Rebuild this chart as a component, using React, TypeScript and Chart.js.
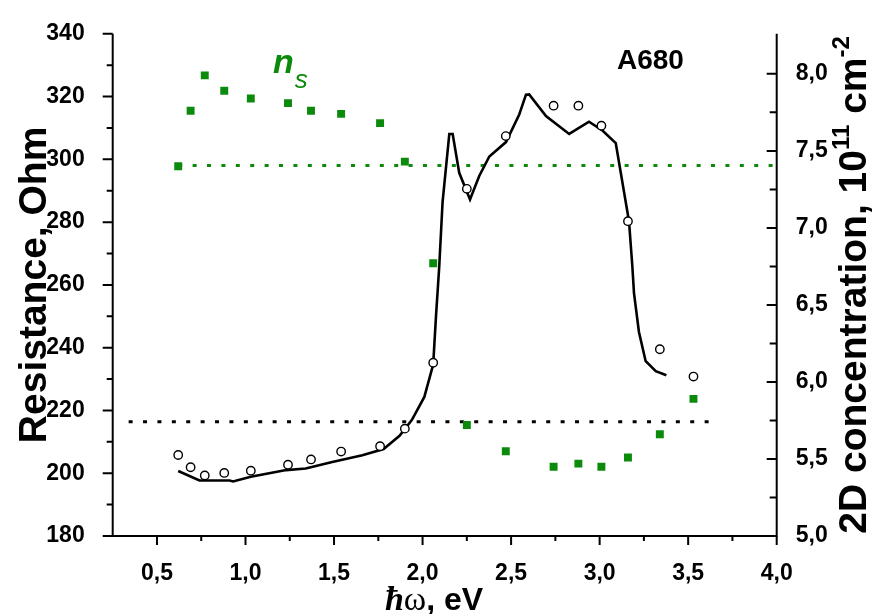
import React, { useEffect, useRef } from 'react';
import { Chart, registerables } from 'chart.js';

Chart.register(...registerables);

// Photon energy (eV) of measured points
const energy = [0.62, 0.69, 0.77, 0.88, 1.03, 1.24, 1.37, 1.54, 1.76, 1.9, 2.06, 2.25, 2.47, 2.74, 2.88, 3.01, 3.16, 3.34, 3.53];
// Resistance (Ohm), open circles
const resistance = [205.8, 201.9, 199.3, 200.1, 200.8, 202.7, 204.4, 206.9, 208.6, 214.2, 235.2, 290.6, 307.4, 317.1, 317.1, 310.7, 280.3, 239.5, 230.8];
// 2D concentration (10^11 cm^-2), green squares
const concentration = [7.4, 7.76, 7.99, 7.89, 7.84, 7.81, 7.76, 7.74, 7.68, 7.43, 6.77, 5.72, 5.55, 5.45, 5.47, 5.45, 5.51, 5.66, 5.89];

// Solid curve
const curveEnergy = [0.62, 0.74, 0.91, 0.93, 1.03, 1.23, 1.34, 1.49, 1.66, 1.78, 1.87, 1.94, 2.01, 2.06, 2.076, 2.094, 2.113, 2.151, 2.17, 2.207, 2.268, 2.32, 2.377, 2.471, 2.546, 2.584, 2.602, 2.697, 2.828, 2.94, 3.016, 3.091, 3.166, 3.185, 3.194, 3.222, 3.26, 3.317, 3.377];
const curveResistance = [200.7, 197.7, 197.7, 197.4, 198.9, 201.0, 201.5, 203.6, 205.7, 207.7, 211.9, 217.0, 224.3, 234.6, 250.2, 265.7, 286.4, 308.1, 308.1, 295.7, 287.2, 294.7, 300.9, 305.5, 314.3, 320.6, 320.7, 313.8, 308.1, 312.0, 309.2, 305.2, 280.2, 265.7, 257.4, 245.0, 235.7, 232.5, 231.2];

// Dotted reference levels
const resistanceLevel = 216.4;
const resistanceLevelEnergy = [0.34, 3.63];
const concentrationLevel = 7.405;
const concentrationLevelEnergy = [0.62, 4.0];

// Axis ticks
const xTicks = [0.5, 1.0, 1.5, 2.0, 2.5, 3.0, 3.5, 4.0];
const xMinorTicks = [0.75, 1.25, 1.75, 2.25, 2.75, 3.25, 3.75];
const leftTicks = [180, 200, 220, 240, 260, 280, 300, 320, 340];
const leftMinorTicks = [190, 210, 230, 250, 270, 290, 310, 330];
const rightTicks = [5.0, 5.5, 6.0, 6.5, 7.0, 7.5, 8.0];
const rightMinorTicks = [5.25, 5.75, 6.25, 6.75, 7.25, 7.75];

const GREEN = '#0b8a0b';
const SANS = '"Liberation Sans", Arial, sans-serif';
const SERIF = '"Liberation Serif", "Times New Roman", serif';

const fmt = (v: number) => v.toFixed(1).replace('.', ',');

const decorPlugin = {
  id: 'decor',
  afterDraw(chart: any) {
    const ctx = chart.ctx as CanvasRenderingContext2D;
    const a = chart.chartArea;
    const sx = chart.scales.x;
    const sy = chart.scales.y;
    const sy1 = chart.scales.y1;
    ctx.save();
    ctx.strokeStyle = '#000';
    ctx.lineWidth = 2;
    ctx.lineCap = 'butt';
    // axis lines
    ctx.beginPath();
    ctx.moveTo(a.left, a.top);
    ctx.lineTo(a.left, a.bottom);
    ctx.lineTo(a.right, a.bottom);
    ctx.lineTo(a.right, a.top);
    ctx.stroke();
    // ticks
    ctx.beginPath();
    xTicks.forEach((v) => { const p = sx.getPixelForValue(v); ctx.moveTo(p, a.bottom); ctx.lineTo(p, a.bottom + 9); });
    xMinorTicks.forEach((v) => { const p = sx.getPixelForValue(v); ctx.moveTo(p, a.bottom); ctx.lineTo(p, a.bottom + 5); });
    leftTicks.forEach((v) => { const p = sy.getPixelForValue(v); ctx.moveTo(a.left, p); ctx.lineTo(a.left - 10, p); });
    leftMinorTicks.forEach((v) => { const p = sy.getPixelForValue(v); ctx.moveTo(a.left, p); ctx.lineTo(a.left - 6, p); });
    rightTicks.forEach((v) => { const p = sy1.getPixelForValue(v); ctx.moveTo(a.right, p); ctx.lineTo(a.right - 10, p); });
    rightMinorTicks.forEach((v) => { const p = sy1.getPixelForValue(v); ctx.moveTo(a.right, p); ctx.lineTo(a.right - 7, p); });
    ctx.stroke();

    ctx.fillStyle = '#000';
    ctx.textBaseline = 'alphabetic';
    // left title
    ctx.save();
    ctx.translate(46, (a.top + a.bottom) / 2);
    ctx.rotate(-Math.PI / 2);
    ctx.font = `bold 39px ${SANS}`;
    ctx.textAlign = 'center';
    ctx.fillText('Resistance, Ohm', 0, 0);
    ctx.restore();

    // right title with superscripts
    const segs = [
      { t: '2D concentration, 10', f: `bold 39px ${SANS}`, rise: 0 },
      { t: '11', f: `bold 24px ${SANS}`, rise: 17 },
      { t: ' cm', f: `bold 39px ${SANS}`, rise: 0 },
      { t: '-2', f: `bold 24px ${SANS}`, rise: 17 },
    ];
    let total = 0;
    segs.forEach((s) => { ctx.font = s.f; total += ctx.measureText(s.t).width; });
    ctx.save();
    ctx.translate(866, (a.top + a.bottom) / 2);
    ctx.rotate(-Math.PI / 2);
    ctx.textAlign = 'left';
    let cx = -total / 2;
    segs.forEach((s) => { ctx.font = s.f; ctx.fillText(s.t, cx, -s.rise); cx += ctx.measureText(s.t).width; });
    ctx.restore();

    // bottom title
    const bsegs = [
      { t: 'ħ', f: `italic bold 34px ${SERIF}` },
      { t: 'ω', f: `34px ${SERIF}` },
      { t: ', eV', f: `bold 32px ${SANS}` },
    ];
    let bw = 0;
    bsegs.forEach((s) => { ctx.font = s.f; bw += ctx.measureText(s.t).width; });
    let bx = 434 - bw / 2;
    ctx.textAlign = 'left';
    bsegs.forEach((s) => { ctx.font = s.f; ctx.fillText(s.t, bx, 610); bx += ctx.measureText(s.t).width; });

    // A680
    ctx.font = `bold 28px ${SANS}`;
    ctx.fillText('A680', 617, 69);

    // n_s
    ctx.fillStyle = GREEN;
    ctx.font = `italic bold 34px ${SANS}`;
    ctx.fillText('n', 273, 73);
    const nw = ctx.measureText('n').width;
    ctx.font = `italic 26px ${SANS}`;
    ctx.fillText('s', 273 + nw + 1, 88);
    ctx.restore();
  },
};

export default function App() {
  const ref = useRef<HTMLCanvasElement | null>(null);
  useEffect(() => {
    if (!ref.current) return;
    const tickFont = { family: SANS, weight: 'bold' as const, size: 23 };
    const chart = new Chart(ref.current, {
      type: 'scatter',
      data: {
        datasets: [
          {
            label: 'curve',
            data: curveEnergy.map((x, i) => ({ x, y: curveResistance[i] })),
            showLine: true,
            borderColor: '#000',
            borderWidth: 2.6,
            pointRadius: 0,
            tension: 0,
            yAxisID: 'y',
            order: 3,
          },
          {
            label: 'resistance',
            data: energy.map((x, i) => ({ x, y: resistance[i] })),
            showLine: false,
            pointStyle: 'circle',
            pointRadius: 4.2,
            pointBackgroundColor: '#fff',
            pointBorderColor: '#000',
            pointBorderWidth: 1.4,
            yAxisID: 'y',
            order: 1,
          },
          {
            label: 'ns',
            data: energy.map((x, i) => ({ x, y: concentration[i] })),
            showLine: false,
            pointStyle: 'rect',
            pointRadius: 5.6,
            pointBackgroundColor: GREEN,
            pointBorderColor: GREEN,
            pointBorderWidth: 0,
            yAxisID: 'y1',
            order: 2,
          },
          {
            label: 'R level',
            data: resistanceLevelEnergy.map((x) => ({ x, y: resistanceLevel })),
            showLine: true,
            borderColor: '#000',
            borderWidth: 3,
            borderDash: [4, 10.4],
            pointRadius: 0,
            yAxisID: 'y',
            order: 4,
          },
          {
            label: 'ns level',
            data: concentrationLevelEnergy.map((x) => ({ x, y: concentrationLevel })),
            showLine: true,
            borderColor: GREEN,
            borderWidth: 3,
            borderDash: [4, 10.4],
            pointRadius: 0,
            yAxisID: 'y1',
            order: 5,
          },
        ],
      },
      options: {
        responsive: false,
        animation: false,
        events: [],
        layout: { padding: { top: 20.7, left: 0, right: 0, bottom: 0 } },
        plugins: { legend: { display: false }, tooltip: { enabled: false } },
        scales: {
          x: {
            type: 'linear',
            min: 0.25,
            max: 4.0,
            grid: { display: false },
            border: { display: false },
            ticks: { padding: 16, font: tickFont, color: '#000', maxRotation: 0, autoSkip: false, callback: (v: any) => fmt(Number(v)) },
            afterBuildTicks: (s: any) => { s.ticks = xTicks.map((value) => ({ value })); },
            afterFit: (s: any) => { s.height = 78; },
          },
          y: {
            type: 'linear',
            position: 'left',
            min: 180,
            max: 340,
            grid: { display: false },
            border: { display: false },
            ticks: { padding: 20, font: tickFont, color: '#000', autoSkip: false, callback: (v: any) => String(v) },
            afterBuildTicks: (s: any) => { s.ticks = leftTicks.map((value) => ({ value })); },
            afterFit: (s: any) => { s.width = 112.7; },
          },
          y1: {
            type: 'linear',
            position: 'right',
            min: 5.0,
            max: 8.26,
            grid: { display: false },
            border: { display: false },
            ticks: { padding: 11, font: tickFont, color: '#000', autoSkip: false, callback: (v: any) => fmt(Number(v)) },
            afterBuildTicks: (s: any) => { s.ticks = rightTicks.map((value) => ({ value })); },
            afterFit: (s: any) => { s.width = 95.3; },
          },
        },
      },
      plugins: [decorPlugin],
    });
    return () => chart.destroy();
  }, []);
  return (
    <canvas
      ref={ref}
      width={872}
      height={614}
      style={{ position: 'absolute', left: 0, top: 0, display: 'block', background: '#fff' }}
    />
  );
}
